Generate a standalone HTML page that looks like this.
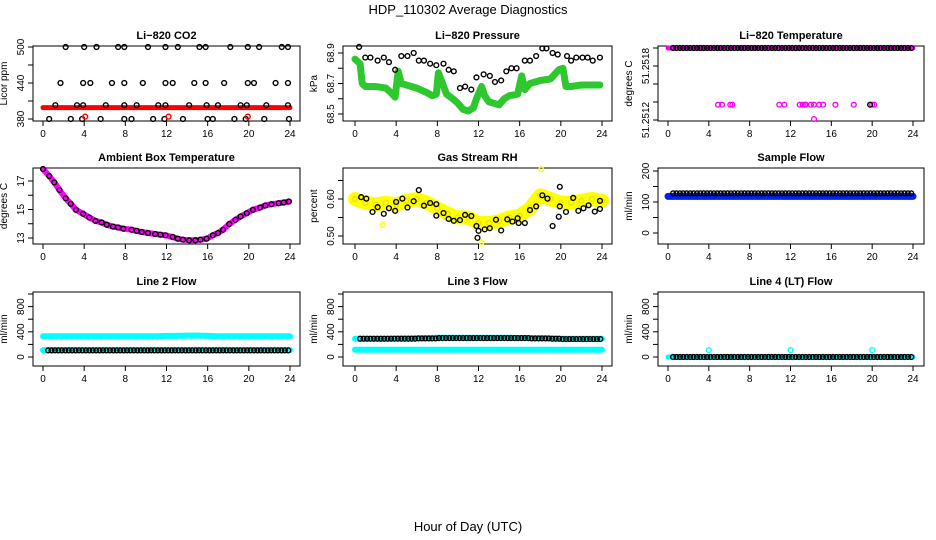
<!DOCTYPE html>
<html><head><meta charset="utf-8"><style>
body{margin:0;background:#fff}
svg{display:block;font-family:"Liberation Sans",Arial,sans-serif}
.tl{font-size:10px}
.tt{font-size:11px;font-weight:bold}
</style></head><body>
<svg id="c" width="936" height="540" viewBox="0 0 936 540">
<rect width="936" height="540" fill="#fff"/>
<text x="468" y="14" text-anchor="middle" font-size="13">HDP_110302  Average Diagnostics</text>
<text x="468" y="531" text-anchor="middle" font-size="13">Hour of Day (UTC)</text>
</svg>
<script>
// ---- data ----
const xTicks=[0,4,8,12,16,20,24];
// CO2
const co2BandHours=[0,4,8,12,16,20,24];
const co2BandVals=[399,399,399,399,399,399,399];
const co2BlackH=[2.2,4.0,5.2,7.3,7.9,10.2,11.9,13.1,15.2,15.8,18.2,19.9,21.0,23.2,23.8, 1.7,3.9,4.6,6.7,7.9,9.7,11.9,12.6,14.7,15.8,17.6,19.9,20.5,22.6,23.8, 1.2,3.3,3.9,6.1,7.9,9.1,11.2,11.9,14.2,15.9,17.0,19.2,19.8,21.7,23.8, 0.6,2.7,3.8,5.6,7.9,8.6,10.7,11.8,13.6,16.0,16.5,18.6,19.7,21.5,23.9];
const co2BlackV=[500,500,500,500,500,500,500,500,500,500,500,500,500,500,500, 440,440,440,440,440,440,440,440,440,440,440,440,440,440,440, 403,403,403,403,403,403,403,403,403,403,403,403,403,403,403, 380,380,380,380,380,380,380,380,380,380,380,380,380,380,380];
const co2RedH=[4.1,12.2,19.9];
const co2RedV=[384,384,384];
// Pressure
const presGreenH=[0,0.5,0.7,1,2,3,3.5,3.9,4.2,4.5,5,6,7,7.5,7.9,8.1,8.5,8.9,9.5,10,10.5,11,11.5,11.8,12.3,12.6,13,14,14.5,15,15.8,16.2,16.5,17,18,19,19.8,20.2,20.5,21,22,23,23.8];
const presGreenV=[68.86,68.83,68.70,68.68,68.68,68.67,68.64,68.61,68.78,68.70,68.69,68.67,68.64,68.62,68.63,68.77,68.70,68.63,68.60,68.57,68.53,68.52,68.54,68.60,68.68,68.62,68.58,68.56,68.60,68.62,68.63,68.75,68.66,68.70,68.72,68.73,68.79,68.80,68.68,68.68,68.69,68.69,68.69];
const presBlackH=[0.4,1.0,1.5,2.2,2.8,3.3,3.9,4.5,5.1,5.7,6.2,6.7,7.3,7.9,8.6,9.1,9.6,10.2,10.7,11.3,11.8,12.5,13.1,13.6,14.2,14.7,15.2,15.7,16.5,17.0,17.6,18.2,18.6,19.2,19.7,20.6,21.0,21.5,22.1,22.6,23.1,23.8];
const presBlackV=[68.94,68.87,68.87,68.85,68.87,68.84,68.79,68.88,68.88,68.90,68.85,68.85,68.83,68.82,68.83,68.79,68.78,68.67,68.68,68.66,68.74,68.76,68.75,68.71,68.72,68.78,68.80,68.80,68.85,68.85,68.88,68.93,68.93,68.90,68.89,68.88,68.85,68.87,68.87,68.87,68.85,68.87];
// Li-820 temperature
const tempTopV=51.2520;
const tempMagH=[4.9,5.3,6.1,6.3,10.9,11.4,12.9,13.2,13.4,13.5,14.0,14.3,14.8,15.2,16.4,18.2,20.0,20.2,14.3];
const tempMagV=[51.25137,51.25137,51.25137,51.25137,51.25137,51.25137,51.25137,51.25137,51.25137,51.25137,51.25137,51.25137,51.25137,51.25137,51.25137,51.25137,51.25137,51.25137,51.25121];
const tempBlackMidH=[19.8];
const tempBlackMidV=[51.25137];
// Ambient
const ambH=[0,0.6,1.1,1.6,2.2,2.7,3.2,3.9,4.5,5.1,5.7,6.2,6.8,7.3,7.8,8.6,9.1,9.6,10.2,10.9,11.4,11.9,12.6,13.1,13.6,14.2,14.8,15.3,15.9,16.5,17.0,17.5,18.1,18.7,19.2,19.8,20.4,21.1,21.6,22.2,22.9,23.4,23.9];
const ambV=[17.84,17.35,16.9,16.37,15.79,15.4,14.98,14.7,14.44,14.2,14.09,13.93,13.8,13.74,13.65,13.58,13.5,13.42,13.35,13.28,13.23,13.19,13.07,12.95,12.88,12.84,12.84,12.88,12.95,13.19,13.35,13.58,13.98,14.28,14.51,14.74,14.98,15.14,15.28,15.37,15.44,15.49,15.56];
// RH
const rhYelH=[0,1,2,3,4,5,6,7,8,9,10,11,12,13,14,15,16,17,18,19,20,21,22,23,24];
const rhYelV=[0.60,0.59,0.585,0.59,0.585,0.595,0.60,0.59,0.575,0.56,0.55,0.55,0.535,0.535,0.54,0.55,0.555,0.575,0.61,0.60,0.59,0.59,0.595,0.60,0.595];
const rhYelOutH=[2.7,18.1,12.3];
const rhYelOutV=[0.53,0.68,0.483];
const rhBlackH=[0.6,1.1,1.7,2.2,2.8,3.3,3.9,4.0,4.6,5.1,5.7,6.2,6.7,7.3,7.9,7.9,8.6,9.1,9.6,10.2,10.7,11.3,11.8,12.0,11.9,12.6,13.1,13.7,14.2,14.8,15.3,15.8,15.9,16.5,17.0,17.6,18.2,18.7,19.2,19.8,19.9,19.9,20.5,21.2,21.7,22.2,22.7,23.3,23.8,23.8];
const rhBlackV=[0.605,0.601,0.565,0.578,0.56,0.575,0.568,0.592,0.601,0.577,0.594,0.624,0.582,0.589,0.586,0.555,0.562,0.546,0.541,0.543,0.557,0.554,0.527,0.514,0.495,0.518,0.521,0.544,0.515,0.545,0.539,0.548,0.535,0.535,0.57,0.58,0.61,0.601,0.527,0.552,0.58,0.633,0.565,0.603,0.568,0.575,0.583,0.566,0.573,0.595];
// Flows (hourly levels, hours 0..24)
const sampleBlue=[118,118,118,118,118,118,118,118,118,118,118,118,118,118,118,118,118,118,118,118,118,118,118,118,118];
const sampleBlack=[128,128,128,128,128,128,128,128,128,128,128,128,128,128,128,128,128,128,128,128,128,128,128,128,128];
const line2CyanHi=[330,330,330,330,330,330,330,330,330,330,330,330,335,335,340,340,335,330,330,330,330,330,330,330,330];
const line2CyanLo=[110,110,110,110,110,110,110,110,110,110,110,110,110,110,110,110,110,110,110,110,110,110,110,110,110];
const line2Black=[105,105,105,105,105,105,105,105,105,105,105,105,105,105,105,105,105,105,105,105,105,105,105,105,105];
const line3CyanHi=[290,290,290,290,295,295,300,300,305,305,305,305,305,305,305,305,300,300,300,295,290,290,290,290,290];
const line3CyanLo=[115,115,115,115,115,115,115,115,115,115,115,115,115,115,115,115,115,115,115,115,115,115,115,115,115];
const line3Black=[290,290,290,290,290,290,295,295,300,300,300,300,300,300,300,300,300,295,295,290,285,285,285,285,285];
const line4Black=[0,0,0,0,0,0,0,0,0,0,0,0,0,0,0,0,0,0,0,0,0,0,0,0,0];
const line4SpikeH=[4,12,20];
const line4SpikeV=[110,110,110];

// ---- drawing ----
const NS='http://www.w3.org/2000/svg';
const svg=document.getElementById('c');
function mk(tag,attrs,parent){const e=document.createElementNS(NS,tag);for(const k in attrs)e.setAttribute(k,attrs[k]);(parent||svg).appendChild(e);return e;}
function panel(p){
  const g=mk('g',{});
  
  
  const X=h=>p.x0+(h/24)*(p.x1-p.x0);
  const Y=v=>p.yb+(v-p.vb)/(p.vt-p.vb)*(p.yt-p.yb);
  const t=mk('text',{x:(p.L+p.R)/2,y:p.T-7,'text-anchor':'middle',class:'tt'},g);t.textContent=p.title;
  
  
  const box=mk('rect',{x:p.L,y:p.T,width:p.R-p.L,height:p.B-p.T,fill:'none',stroke:'#000','stroke-width':1},g);
  
  
  const xa=mk('g',{},g);
  
  
  mk('line',{x1:X(0),x2:X(24),y1:p.B,y2:p.B,stroke:'#000'},xa);
  xTicks.forEach(h=>{mk('line',{x1:X(h),x2:X(h),y1:p.B,y2:p.B+5,stroke:'#000'},xa);
    const l=mk('text',{x:X(h),y:p.B+16,'text-anchor':'middle',class:'tl'},xa);l.textContent=h;});
  const ya=mk('g',{},g);
  
  
  mk('line',{x1:p.L,x2:p.L,y1:Y(p.ticks[0]),y2:Y(p.ticks[p.ticks.length-1]),stroke:'#000'},ya);
  p.ticks.forEach((v,i)=>{const y=Y(v);mk('line',{x1:p.L-5,x2:p.L,y1:y,y2:y,stroke:'#000'},ya);
    if(p.labels[i]!==''){const l=mk('text',{x:p.L-9,y:y,'text-anchor':'middle',class:'tl',transform:`rotate(-90 ${p.L-9} ${y})`},ya);l.textContent=p.labels[i];}});
  const yl=mk('text',{x:p.L-26,y:(p.T+p.B)/2,'text-anchor':'middle',class:'tl',transform:`rotate(-90 ${p.L-26} ${(p.T+p.B)/2})`},g);yl.textContent=p.ylab;
  
  
  const cg=mk('g',{},g);
  p.draw({g:cg,X,Y});
}
function band(ctx,H,V,color,w,name){
  const d=H.map((h,i)=>(i?'L':'M')+ctx.X(h).toFixed(1)+' '+ctx.Y(V[i]).toFixed(1)).join(' ');
  const e=mk('path',{d,fill:'none',stroke:color,'stroke-width':w,'stroke-linejoin':'round','stroke-linecap':'round'},ctx.g);
  
  
}
function pts(ctx,H,V,color,name,r){
  const gg=mk('g',{},ctx.g);
  
  
  H.forEach((h,i)=>mk('circle',{cx:ctx.X(h),cy:ctx.Y(V[i]),r:r||2.4,fill:'none',stroke:color,'stroke-width':1.4},gg));
}
const hrs=[...Array(25).keys()];
function stepPts(ctx,levels,start,end,color,name){
  const H=[],V=[];for(let h=start;h<=end+1e-6;h+=1/3){H.push(h);V.push(levels[Math.floor(h)]);}
  pts(ctx,H,V,color,name);
}
const C1=[33,300,43,290],C2=[343,612,355,602],C3=[658,924,668,913];
const R1=[46,121],R2=[168,244],R3=[292,366];
function P(c,r,o){return Object.assign({L:c[0],R:c[1],x0:c[2],x1:c[3],T:r[0],B:r[1]},o);}
const flowTicks=[0,200,400,600,800,1000],flowLab=['0','','400','','800',''];
panel(P(C1,R1,{name:'panel-co2',title:'Li\u2212820 CO2',ylab:'Licor ppm',vb:380,vt:500,yb:119,yt:47,ticks:[380,410,440,470,500],labels:['380','','440','','500'],
 draw:c=>{band(c,co2BandHours,co2BandVals,'#f00',5,'co2-red-band');pts(c,co2BlackH,co2BlackV,'#000','co2-black-points');pts(c,co2RedH,co2RedV,'#f00','co2-red-points');}}));
panel(P(C2,R1,{name:'panel-pressure',title:'Li\u2212820 Pressure',ylab:'kPa',vb:68.5,vt:68.9,yb:114,yt:53,ticks:[68.5,68.6,68.7,68.8,68.9],labels:['68.5','','68.7','','68.9'],
 draw:c=>{band(c,presGreenH,presGreenV,'#2ec82e',7,'pressure-green-band');pts(c,presBlackH,presBlackV,'#000','pressure-black-points');}}));
panel(P(C3,R1,{name:'panel-licor-temp',title:'Li\u2212820 Temperature',ylab:'degrees C',vb:51.2512,vt:51.2520,yb:120,yt:48,ticks:[51.2512,51.2514,51.2516,51.2518,51.2520],labels:['51.2512','','','51.2518',''],
 draw:c=>{band(c,[0,24],[tempTopV,tempTopV],'#ff00ff',5,'temp-magenta-band');stepPts(c,hrs.map(()=>tempTopV),0.5,23.9,'#000','temp-black-points');pts(c,tempMagH,tempMagV,'#ff00ff','temp-magenta-points');pts(c,tempBlackMidH,tempBlackMidV,'#000','temp-black-mid');}}));
panel(P(C1,R2,{name:'panel-ambient',title:'Ambient Box Temperature',ylab:'degrees C',vb:13,vt:17,yb:238,yt:181,ticks:[13,14,15,16,17],labels:['13','','15','','17'],
 draw:c=>{band(c,ambH,ambV,'#ff00ff',6,'ambient-magenta-band');pts(c,ambH,ambV,'#000','ambient-black-points');}}));
panel(P(C2,R2,{name:'panel-rh',title:'Gas Stream RH',ylab:'percent',vb:0.5,vt:0.6,yb:236,yt:199,ticks:[0.5,0.55,0.6,0.65],labels:['0.50','','0.60',''],
 draw:c=>{band(c,rhYelH,rhYelV,'#ffff00',14,'rh-yellow-band');pts(c,rhYelH,rhYelV,'#e6e600','rh-yellow-points');pts(c,rhYelOutH,rhYelOutV,'#ffff00','rh-yellow-outliers');pts(c,rhBlackH,rhBlackV,'#000','rh-black-points');}}));
panel(P(C3,R2,{name:'panel-sample-flow',title:'Sample Flow',ylab:'ml/min',vb:0,vt:200,yb:233,yt:171,ticks:[0,50,100,150,200],labels:['0','','100','','200'],
 draw:c=>{band(c,hrs,sampleBlue,'#0022ee',7,'sample-blue-band');stepPts(c,sampleBlack,0.5,23.9,'#000','sample-black-points');}}));
panel(P(C1,R3,{name:'panel-line2',title:'Line 2 Flow',ylab:'ml/min',vb:0,vt:1000,yb:357,yt:294,ticks:flowTicks,labels:flowLab,
 draw:c=>{band(c,hrs,line2CyanHi,'#00ffff',6,'line2-cyan-high');band(c,hrs,line2CyanLo,'#00ffff',6,'line2-cyan-low');stepPts(c,line2Black,0.5,23.9,'#000','line2-black-points');}}));
panel(P(C2,R3,{name:'panel-line3',title:'Line 3 Flow',ylab:'ml/min',vb:0,vt:1000,yb:357,yt:294,ticks:flowTicks,labels:flowLab,
 draw:c=>{band(c,hrs,line3CyanLo,'#00ffff',6,'line3-cyan-low');band(c,hrs,line3CyanHi,'#00ffff',6,'line3-cyan-high');stepPts(c,line3Black,0.5,23.9,'#000','line3-black-points');}}));
panel(P(C3,R3,{name:'panel-line4',title:'Line 4 (LT) Flow',ylab:'ml/min',vb:0,vt:1000,yb:357,yt:294,ticks:flowTicks,labels:flowLab,
 draw:c=>{band(c,hrs,line4Black,'#00ffff',5,'line4-cyan-band');stepPts(c,line4Black,0.5,23.9,'#000','line4-black-points');pts(c,line4SpikeH,line4SpikeV,'#00ffff','line4-cyan-spikes');}}));
</script>
</body></html>
